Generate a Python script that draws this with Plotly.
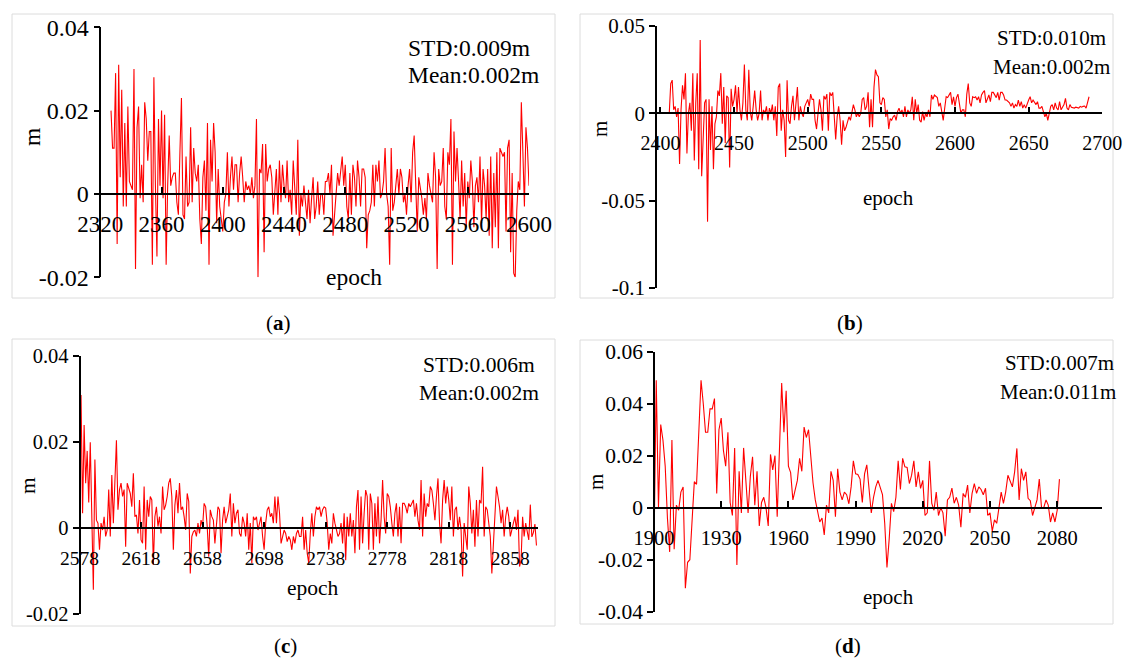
import plotly.graph_objects as go

W, H = 1126, 662
FONT = "Liberation Serif"

# ---------------- data (residuals in metres) ----------------
a_start = 2327
a_vals = [
    0.020, 0.011, 0.011, 0.029, -0.012, 0.031, 0.004, 0.025, -0.003, 0.017,
    -0.003, 0.021, 0.003, 0.002, 0.001, 0.030, -0.018, 0.016, 0.021, -0.001,
    0.007, -0.002, 0.022, 0.018, 0.008, 0.015, 0.015, -0.017, 0.028, 0.002,
    -0.015, 0.018, 0.002, 0.020, -0.001, 0.019, -0.017, 0.002, 0.014, 0.002,
    0.004, 0.005, 0.005, -0.002, -0.005, 0.010, 0.023, -0.005, -0.006, 0.009,
    -0.003, -0.002, 0.016, -0.002, 0.011, 0.005, 0.003, 0.007, -0.006, -0.012,
    0.004, 0.008, -0.004,
    0.017, -0.017, 0.013, 0.003, 0.017, 0.010, -0.007, 0.006, -0.003, -0.006,
    -0.009, -0.002, 0.000, 0.010, -0.003, 0.004, 0.009, 0.001, 0.007, 0.007,
    -0.002, 0.005, 0.009, 0.004, -0.002, 0.003, 0.001, 0.002, 0.000, 0.004,
    -0.001, 0.002, 0.018, -0.020,
    0.006, 0.005, 0.012, -0.014, 0.012, 0.003, 0.006, 0.007, 0.004, -0.005,
    0.001, 0.006, -0.005, 0.008, -0.002, 0.007, 0.002, -0.001, 0.008, -0.002,
    0.001, -0.005, 0.008, 0.000, -0.005,
    0.013, -0.010, 0.000, -0.003, 0.002, -0.003, -0.006, 0.001, -0.007, -0.001,
    0.004, -0.006, -0.003, 0.003, -0.005, 0.000,
    0.000, -0.005, 0.003, 0.003, 0.005, 0.000, 0.007,
    -0.010, -0.005, -0.002, 0.005, 0.002, 0.005, 0.009, 0.002, 0.007, -0.003,
    -0.006, 0.005, -0.005, 0.007, 0.004, -0.003, 0.008, 0.004, -0.003, 0.006,
    0.006, 0.004, -0.013, -0.005, -0.004, -0.002, 0.007, -0.003, 0.007, 0.003,
    0.008, -0.001, 0.000, 0.003, 0.011, 0.000, -0.003, -0.017, 0.011, -0.004,
    -0.002, 0.002, 0.006, 0.000, 0.006, 0.004, -0.002, 0.000, -0.005, 0.002,
    0.006, -0.002, 0.010, 0.014, 0.000, -0.009, 0.004, 0.002, -0.001, -0.005,
    -0.001, -0.006, 0.005, 0.002, 0.000, -0.002, 0.010, 0.004, -0.018, 0.006,
    0.002, 0.003, 0.011, -0.003, -0.006, 0.010, 0.007, 0.018, -0.017, 0.015,
    0.003, 0.011, 0.003, -0.006, 0.008, -0.003, 0.005, -0.008, 0.003, -0.001,
    0.008, 0.003, -0.008, 0.002, 0.004, -0.002, 0.009, -0.007, 0.006, 0.002,
    -0.006, 0.006, -0.010, 0.009, -0.013, 0.005, -0.008,
    0.010, -0.013, 0.011, 0.010, 0.009, 0.010, -0.009, 0.011, 0.013, -0.014,
    0.005, -0.019, -0.020, -0.004, 0.003, 0.001, 0.022, 0.010, -0.003, 0.016,
    0.011, 0.002,
]

b_start = 2406
b_vals = [
    0.000, 0.017, 0.019, 0.002, 0.004, -0.002, 0.003, -0.029, 0.002, 0.016,
    0.008, 0.023, -0.023, 0.000, 0.006, -0.010, 0.023, -0.027, 0.006, 0.023,
    -0.032, 0.042, -0.036, -0.013, 0.006, 0.008, -0.062, 0.008, -0.021, 0.004,
    -0.032, -0.006, -0.002, 0.013, 0.010, 0.023, -0.006, 0.015, -0.017, 0.010,
    0.009, -0.031, 0.014, 0.004, 0.008,
    0.016, 0.000, 0.015, 0.002, -0.004, 0.006, 0.028, 0.002, -0.004, 0.025,
    0.001, -0.004, 0.004, 0.013, 0.002, -0.004, 0.000, 0.013, -0.004, 0.002,
    0.000, 0.004, -0.004, 0.003, 0.000, 0.005, -0.004, 0.004, -0.013, 0.015,
    0.017, -0.010, 0.002, -0.004, -0.025, 0.019, -0.004, -0.006, 0.004, 0.010,
    -0.004, 0.006, 0.015, -0.004, 0.004, 0.000, -0.002, 0.004, 0.006, 0.008,
    0.004, 0.011, 0.008, 0.008, -0.004, -0.009, 0.000, 0.008, 0.002, -0.010,
    0.010, 0.008, 0.011, -0.010, 0.012, 0.010, 0.012, 0.000, -0.015, -0.002,
    0.004, -0.004, -0.018, -0.004, -0.010, -0.008, -0.004, -0.002, -0.004, 0.000,
    0.005, 0.002, -0.002, 0.000, -0.002, 0.000, 0.008, 0.009, 0.002, 0.004,
    0.012, -0.008, 0.008, -0.008, 0.015, 0.025, 0.022, 0.021,
    0.006, 0.005, 0.009, 0.008, -0.002, 0.002, -0.009, -0.003, -0.004,
    -0.002, -0.001, -0.004, 0.001, 0.003, 0.000, 0.002, -0.002, 0.004,
    -0.002, 0.002, 0.000, 0.002, 0.0095, -0.004, 0.008, 0.000, 0.005,
    -0.004, -0.005, 0.001, -0.004, 0.000, -0.002, 0.002, -0.002, 0.0105,
    0.008, 0.0105, 0.0095, 0.009, 0.004, 0.006, 0.001, -0.004, 0.003,
    0.0095, 0.009, 0.011, 0.012, 0.005, 0.0095, 0.004, 0.009, 0.011,
    0.005, 0.000, 0.002, 0.002, -0.002, 0.011, 0.017, 0.006, 0.004,
    0.0095, 0.009, 0.0095, 0.0076, 0.0095, 0.006, 0.0105, 0.012, 0.013,
    0.006, 0.009, 0.0105, 0.0067, 0.012, 0.012, 0.0105, 0.009, 0.012,
    0.0076, 0.012, 0.012, 0.0105, 0.0076, 0.0076, 0.0067, 0.006, 0.004,
    0.006, 0.003, 0.005, 0.004, 0.0076, 0.004, 0.0067, 0.003, 0.005,
    0.003, 0.006, 0.0076, 0.0095, 0.006, 0.0076, 0.006, 0.005, 0.0067,
    0.003, 0.003, 0.004, 0.001, -0.002, 0.000, -0.004, 0.000, 0.004,
    0.005, 0.002, 0.006, 0.003, 0.002, 0.0067, 0.002, 0.004, 0.005,
    0.0086, 0.003, 0.002, 0.005, 0.0035, 0.003, 0.003, 0.0035, 0.003,
    0.003, 0.004, 0.0035, 0.004, 0.0042, 0.003, 0.0067, 0.0095,
]

c_start = 2579
c_vals = [
    0.031, 0.0035, 0.024, 0.0105, 0.018, 0.006, 0.020, 0.0054, -0.0143, 0.016,
    0.0019, 0.0012, -0.005, 0.0012, -0.0004, 0.0027, -0.0019, -0.0004, 0.009, -0.0019,
    0.0124, 0.0012, 0.0105, 0.0205, 0.0043, 0.009, 0.0105, 0.0074, 0.009, -0.0043,
    0.0105, 0.009, 0.0081, 0.005, 0.0128, 0.0027, 0.0031, -0.0012, 0.0066, -0.0027,
    -0.0035, 0.0097, -0.005, 0.0066, 0.0027, 0.0074, 0.0066, -0.0085, 0.0027, 0.005,
    0.0004, 0.0027, -0.0012, 0.0097, 0.0043, 0.0054, 0.0074, 0.0105, 0.0116, 0.0074,
    -0.005, 0.0054, 0.0089, 0.0035, 0.0105, 0.0043, 0.005, 0.0027, -0.0004, 0.0081,
    0.0062, -0.0105, -0.0019, -0.0008, -0.0004, -0.0019, 0.0012, -0.0012, 0.0019, 0.0004,
    0.0058, 0.005, 0.0004, -0.0066, 0.0043, 0.0027, 0.0019, -0.0035, 0.0012, 0.005,
    0.0043, -0.0058, 0.0019, 0.005, 0.0012, 0.0027, 0.0043, 0.0081, -0.0019, 0.0058,
    0.0012, 0.0035, 0.0043, -0.0012, -0.0019, 0.0027, 0.0012, -0.0019, 0.0035, -0.005,
    0.0012, -0.0081, 0.0027, 0.0019, 0.0027, -0.0004, 0.0012, 0.0027, -0.0019, -0.005,
    0.0012, 0.0043, 0.005, 0.0027, 0.0035, 0.0012, 0.0074, 0.0012, 0.0074, 0.0035,
    -0.0035, -0.0019, -0.0004, -0.0012, -0.0031, -0.0019, -0.0027, -0.005, -0.0019, -0.0035,
    -0.0012, -0.0004, -0.0019,
    -0.0019, 0.0027, -0.005, -0.0004, -0.0058, -0.0081, -0.0012, 0.0035, -0.0019, 0.0027,
    0.005, 0.0043, 0.005, 0.0027, 0.0043, 0.005, 0.0047, 0.0012, -0.005, -0.0012,
    -0.0035, 0.0035, 0.0012, -0.0004, -0.0019, -0.0012, 0.0012, -0.0035, 0.0035, -0.0074,
    0.0027, -0.0019, 0.0035, -0.0019, 0.0019, -0.0058, 0.005, 0.0089, -0.005, 0.0074,
    -0.0035, 0.0035, 0.0089, 0.0074, -0.005, 0.0081, 0.0058, -0.005, 0.0058, -0.0019,
    0.0074, -0.0035, 0.0019, 0.0112, 0.0027, -0.0012, 0.0081, 0.0074, 0.005, 0.0012,
    -0.0019, 0.0035, 0.0058, -0.0019, 0.005, -0.0035, 0.0058, 0.0058, 0.005, 0.0035,
    0.0058, 0.005, 0.0058, 0.0066, 0.0027, 0.0058, 0.0019, -0.0004, 0.0112, -0.0019,
    0.0081, 0.0027, 0.0058, 0.005, 0.0097, 0.0089, 0.0058, 0.0019, 0.0074, 0.0116,
    0.0012, -0.0035, 0.0066, 0.0112, 0.0058, 0.0097, 0.0066, 0.0019, 0.0097, -0.0019,
    0.0043, 0.005, -0.0004, 0.0027, -0.0004, -0.0112, 0.0012, -0.0019, -0.005, 0.0097,
    0.0058, -0.0012, 0.0043, -0.0043, 0.0066, -0.0019, 0.0066, 0.0058, 0.0143, -0.0019,
    0.005, 0.0043, 0.0012, -0.0019, -0.0105, -0.0035, 0.0043, 0.0097, 0.0074, 0.005,
    0.0012, 0.0043, -0.0019, 0.0027, 0.005, 0.0027, -0.0019, -0.0004, 0.0012, 0.0027,
    -0.0004, 0.0043, -0.0089, -0.0074, 0.0027, -0.0019, 0.0012, -0.0004, -0.0027,
    0.0055, -0.002, -0.001, 0.001, -0.004,
]

d_start = 1900
d_vals = [
    -0.016, 0.049, 0.000, 0.032, 0.026, 0.016, -0.004, -0.017, 0.026, -0.016,
    0.001, -0.001, 0.006, 0.008, -0.031, -0.021, -0.020, -0.006, 0.010, 0.009,
    0.030, 0.049, 0.040, 0.029, 0.029, 0.038, 0.038, 0.042, 0.0055, 0.030,
    0.0345, 0.022, 0.016, 0.029, 0.002, -0.003, 0.023, -0.022, 0.014, -0.002,
    0.023, 0.011, -0.002, 0.012, 0.0196, 0.001, 0.014, -0.007, 0.002, 0.004,
    0.000, -0.007, 0.0205, 0.0145, 0.020, -0.0035, 0.025, 0.048, 0.029, 0.045,
    0.016, 0.0135, 0.003, 0.0075, 0.0105, 0.019, 0.014, 0.031, 0.027, 0.030,
    0.0195, 0.0095, 0.003, -0.002, -0.0055, -0.004, -0.0105, 0.001, -0.002, 0.014,
    0.0105, -0.0035, 0.015, 0.006, 0.003, 0.006, 0.005, 0.0015, 0.008, 0.018,
    0.013, 0.0128, 0.011, 0.002, 0.013, 0.0165, 0.007, -0.002, 0.004, 0.008,
    0.0105, 0.0075, 0.005, -0.006, -0.023, -0.012, 0.0017, -0.0015, 0.004, 0.018,
    0.007, 0.019, 0.0157, 0.0155, 0.0093, 0.0125, 0.018, 0.008, 0.0138, 0.0074,
    0.0105, -0.003, -0.002, 0.018, 0.0017, -0.001, 0.006, -0.003, 0.000, -0.002,
    -0.011, 0.003, 0.004, 0.0075, 0.0017, 0.004, 0.001, -0.0075, 0.0055, 0.004,
    0.0087, -0.002, 0.0055, 0.0093, 0.0055, 0.008, 0.007, 0.005, 0.0075, -0.003,
    -0.002, -0.009, -0.0047, -0.006, 0.0004, 0.006, 0.0017, 0.006, 0.0125, 0.0105,
    0.008, 0.0138, 0.0228, 0.003, 0.015, 0.0105, 0.0138, 0.0036, 0.0027, -0.003,
    0.000, 0.003, 0.011, 0.000, 0.000, 0.003, 0.001, -0.0055, -0.002, -0.0055,
    -0.001, 0.011,
]

# tick labels
a_xticks = ["2320", "2360", "2400", "2440", "2480", "2520", "2560", "2600"]
b_xticks = ["2400", "2450", "2500", "2550", "2600", "2650", "2700"]
c_xticks = ["2578", "2618", "2658", "2698", "2738", "2778", "2818", "2858"]
d_xticks = ["1900", "1930", "1960", "1990", "2020", "2050", "2080"]
a_yticks = ["-0.02", "0", "0.02", "0.04"]
b_yticks = ["-0.1", "-0.05", "0", "0.05"]
c_yticks = ["-0.02", "0", "0.02", "0.04"]
d_yticks = ["-0.04", "-0.02", "0", "0.02", "0.04", "0.06"]

stats = {
    "a": ("STD:0.009m", "Mean:0.002m"),
    "b": ("STD:0.010m", "Mean:0.002m"),
    "c": ("STD:0.006m", "Mean:0.002m"),
    "d": ("STD:0.007m", "Mean:0.011m"),
}

# ---------------- layout geometry (pixels) ----------------
panels = [
    dict(key="a", start=a_start, vals=a_vals, xt=a_xticks, yt=a_yticks,
         xr=[2320, 2600], yr=[-0.02, 0.04], xpx=(100.3, 529), ypx=(27.3, 277.3), fs=23,
         box=(12, 14, 555, 298), stat_pos=[(406, 48.3), (406, 75)], sfs=23.5,
         m_pos=(32, 137), ep_pos=(353.5, 276.7), lab_pos=(278, 323), stand=10),
    dict(key="b", start=b_start, vals=b_vals, xt=b_xticks, yt=b_yticks,
         xr=[2397, 2700], yr=[-0.1, 0.05], xpx=(656, 1102.3), ypx=(26, 288), fs=20,
         box=(580, 14, 1113, 298), stat_pos=[(995, 38.3), (990.7, 66.7)], sfs=21,
         m_pos=(600, 129), ep_pos=(888, 198), lab_pos=(850, 323), stand=12),
    dict(key="c", start=c_start, vals=c_vals, xt=c_xticks, yt=c_yticks,
         xr=[2578, 2876], yr=[-0.02, 0.04], xpx=(79.5, 538), ypx=(356.3, 614.3), fs=19.5,
         box=(12, 339, 555, 626), stat_pos=[(420.7, 365), (416.7, 393.3)], sfs=21.5,
         m_pos=(28, 486), ep_pos=(312.7, 588.3), lab_pos=(285, 646), stand=12),
    dict(key="d", start=d_start, vals=d_vals, xt=d_xticks, yt=d_yticks,
         xr=[1900, 2100], yr=[-0.04, 0.06], xpx=(654, 1102), ypx=(351.7, 611.7), fs=20.5,
         box=(580, 340, 1113, 624), stat_pos=[(1002.7, 363.3), (997.7, 391.7)], sfs=21,
         m_pos=(596, 482), ep_pos=(888, 596.7), lab_pos=(848, 646), stand=12),
]


def fx(px):
    return px / W


def fy(py):
    return 1 - py / H


fig = go.Figure()
annotations = []
shapes = []
layout_axes = {}

for i, p in enumerate(panels, start=1):
    xa = "x" if i == 1 else f"x{i}"
    ya = "y" if i == 1 else f"y{i}"
    xkey = "xaxis" if i == 1 else f"xaxis{i}"
    ykey = "yaxis" if i == 1 else f"yaxis{i}"
    epochs = list(range(p["start"], p["start"] + len(p["vals"])))
    fig.add_trace(go.Scatter(x=epochs, y=p["vals"], mode="lines",
                             line=dict(color="#ff0000", width=1.1),
                             xaxis=xa, yaxis=ya, hoverinfo="skip"))
    xd = [fx(p["xpx"][0]), fx(p["xpx"][1])]
    yd = [fy(p["ypx"][1]), fy(p["ypx"][0])]
    y0, y1 = p["yr"]
    zero_pos = yd[0] + (0 - y0) / (y1 - y0) * (yd[1] - yd[0])
    xtv = [float(t) for t in p["xt"]]
    ytv = [float(t) for t in p["yt"]]
    layout_axes[xkey] = dict(
        domain=xd, range=p["xr"], anchor="free", position=zero_pos,
        automargin=False,
        showline=True, linecolor="black", linewidth=1.6,
        ticks="inside", ticklen=6, tickwidth=1.6, tickcolor="black",
        tickvals=xtv, ticktext=p["xt"], ticklabelstandoff=p["stand"],
        tickfont=dict(family=FONT, size=p["fs"], color="black"),
        showgrid=False, zeroline=False, fixedrange=True,
    )
    layout_axes[ykey] = dict(
        domain=yd, range=p["yr"], anchor="free", position=xd[0],
        automargin=False,
        showline=True, linecolor="black", linewidth=1.6,
        ticks="outside", ticklen=6, tickwidth=1.6, tickcolor="black",
        tickvals=ytv, ticktext=p["yt"],
        tickfont=dict(family=FONT, size=p["fs"] + 1, color="black"),
        showgrid=False, zeroline=False, fixedrange=True,
    )
    bx0, by0, bx1, by1 = p["box"]
    shapes.append(dict(type="rect", xref="paper", yref="paper",
                       x0=fx(bx0), x1=fx(bx1), y0=fy(by1), y1=fy(by0),
                       line=dict(color="#dcdcdc", width=1), layer="below"))
    s1, s2 = stats[p["key"]]
    for txt, (sx, sy) in zip((s1, s2), p["stat_pos"]):
        annotations.append(dict(text=txt, x=fx(sx), y=fy(sy), xref="paper", yref="paper",
                                xanchor="left", yanchor="middle", showarrow=False,
                                font=dict(family=FONT, size=p["sfs"], color="black")))
    annotations.append(dict(text="m", x=fx(p["m_pos"][0]), y=fy(p["m_pos"][1]),
                            xref="paper", yref="paper", textangle=-90,
                            xanchor="center", yanchor="middle", showarrow=False,
                            font=dict(family=FONT, size=p["sfs"], color="black")))
    annotations.append(dict(text="epoch", x=fx(p["ep_pos"][0]), y=fy(p["ep_pos"][1]),
                            xref="paper", yref="paper",
                            xanchor="center", yanchor="middle", showarrow=False,
                            font=dict(family=FONT, size=p["sfs"], color="black")))
    annotations.append(dict(text=f"(<b>{p['key']}</b>)", x=fx(p["lab_pos"][0]), y=fy(p["lab_pos"][1]),
                            xref="paper", yref="paper",
                            xanchor="center", yanchor="middle", showarrow=False,
                            font=dict(family=FONT, size=21, color="black")))

fig.update_layout(
    width=W, height=H, margin=dict(l=0, r=0, t=0, b=0, autoexpand=False),
    font=dict(family=FONT, size=20, color="black"),
    paper_bgcolor="white", plot_bgcolor="rgba(0,0,0,0)",
    showlegend=False, annotations=annotations, shapes=shapes,
    **layout_axes,
)

fig.write_html("out.html")
